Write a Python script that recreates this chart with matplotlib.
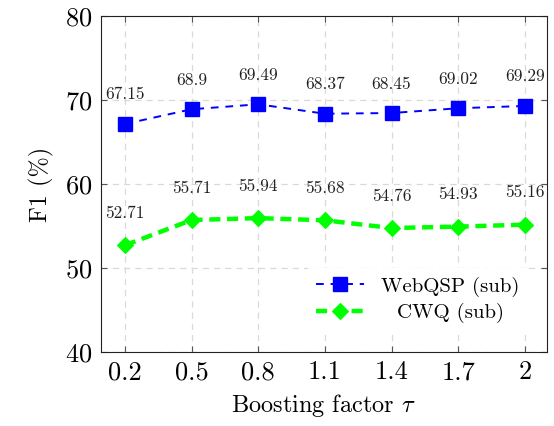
import matplotlib
matplotlib.use("Agg")
import matplotlib.pyplot as plt

# Data
boost = [0.2, 0.5, 0.8, 1.1, 1.4, 1.7, 2.0]
tick_labels = ["0.2", "0.5", "0.8", "1.1", "1.4", "1.7", "2"]
webqsp = [67.15, 68.9, 69.49, 68.37, 68.45, 69.02, 69.29]
cwq = [52.71, 55.71, 55.94, 55.68, 54.76, 54.93, 55.16]
webqsp_text = ["67.15", "68.9", "69.49", "68.37", "68.45", "69.02", "69.29"]
cwq_text = ["52.71", "55.71", "55.94", "55.68", "54.76", "54.93", "55.16"]

plt.rcParams["font.family"] = "cmr10"
plt.rcParams["mathtext.fontset"] = "cm"
plt.rcParams["axes.formatter.use_mathtext"] = True

fig = plt.figure(figsize=(5.54, 4.26), dpi=100)
ax = fig.add_axes([0.1823, 0.1737, 0.8051, 0.7887])

ax.plot(boost, webqsp, color="#0000ff", linestyle=(0, (4, 3.5)), linewidth=1.4,
        marker="s", markersize=10, label="WebQSP (sub)")
ax.plot(boost, cwq, color="#00ff00", linestyle=(0, (2.5, 1.5)), linewidth=3.2,
        marker="D", markersize=8.5, markeredgewidth=0.8, label="CWQ (sub)")

for x, y, t in zip(boost, webqsp, webqsp_text):
    ax.annotate(t, (x, y), xytext=(0, 21), textcoords="offset points",
                ha="center", va="center", fontsize=12.5, color="#222222")
for x, y, t in zip(boost, cwq, cwq_text):
    ax.annotate(t, (x, y), xytext=(0, 23), textcoords="offset points",
                ha="center", va="center", fontsize=12.5, color="#222222")

ax.set_xlim(0.092, 2.1)
ax.set_ylim(40, 80)
ax.set_xticks(boost)
ax.set_xticklabels(tick_labels)
ax.set_yticks([40, 50, 60, 70, 80])

ax.grid(True, color="#d9d9d9", linestyle=(0, (5, 4)), linewidth=0.9)
ax.set_axisbelow(True)
ax.tick_params(direction="in", length=4.5, width=0.8, colors="#555555",
               labelcolor="black", labelsize=19, top=True, right=True, pad=6)
for s in ax.spines.values():
    s.set_color("#222222")
    s.set_linewidth(0.8)

ax.set_xlabel(r"Boosting factor $\tau$", fontsize=17.5, labelpad=6)
ax.set_ylabel("F1 (%)", fontsize=17.5, labelpad=8)

leg = ax.legend(loc="lower right", bbox_to_anchor=(0.98, 0.03), fontsize=15,
                frameon=True, fancybox=False, edgecolor="none", framealpha=1,
                handlelength=2.3, handletextpad=0.8, labelspacing=0.3,
                borderpad=0.4)

# centre the legend entries like pgfplots does
fig.canvas.draw()
texts = leg.get_texts()
widths = [t.get_window_extent().width for t in texts]
wmax = max(widths)
for t, w in zip(texts, widths):
    t.set_x((wmax - w) / 2)

fig.savefig("out.png", dpi=100)
